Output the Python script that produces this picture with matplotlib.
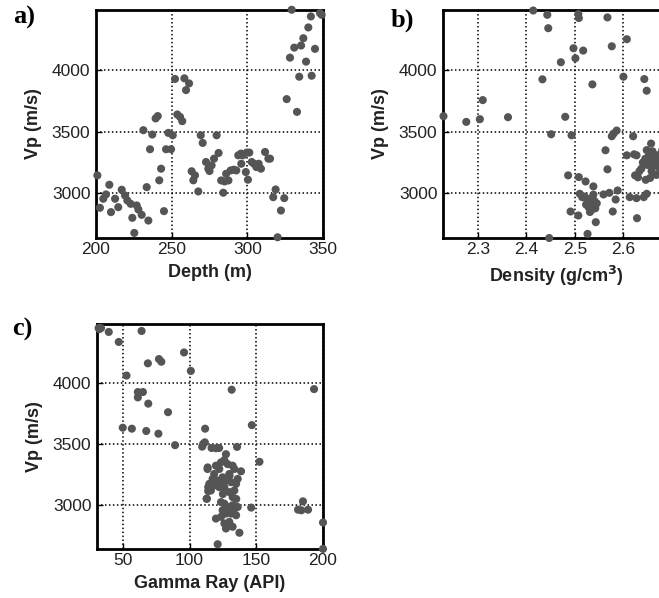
import matplotlib
matplotlib.use("Agg")
import matplotlib.pyplot as plt

# ---- Panel a: depth vs Vp ----
depth_a = [200.9, 202.6, 204.8, 206.6, 208.8, 209.9, 212.6, 214.7, 217.0, 219.2,
           220.7, 222.9, 224.0, 225.3, 226.9, 228.0, 230.2, 234.6, 231.3, 233.5,
           235.7, 237.2, 239.4, 240.8, 241.8, 243.0, 244.9, 246.3, 249.6, 247.8,
           250.7, 252.2, 258.4, 261.5, 259.5, 253.7, 255.5, 257.0, 263.2, 265.4,
           264.3, 267.6, 269.2, 270.5, 272.7, 274.2, 275.0, 276.4, 278.0, 279.7,
           281.0, 282.7, 285.0, 286.0, 287.5, 289.0, 291.0, 292.7, 294.0, 295.8,
           297.0, 299.6, 301.3, 299.0, 300.4, 302.9, 304.4, 306.0, 307.5, 309.0,
           311.7, 313.9, 315.0, 318.7, 317.1, 324.4, 322.2, 320.0, 329.3, 342.0,
           348.0, 349.1, 340.3, 337.0, 335.5, 331.0, 344.7, 328.2, 338.8, 334.3,
           342.5, 326.0, 332.8, 284.1, 296.0]
vp_a = [3146, 2884, 2957, 2992, 3070, 2849, 2957, 2889, 3030, 2984,
        2943, 2916, 2803, 2681, 2903, 2870, 2827, 2781, 3511, 3051,
        3357, 3476, 3606, 3625, 3106, 3200, 2857, 3357, 3357, 3489,
        3470, 3925, 3930, 3889, 3835, 3638, 3619, 3584, 3179, 3146,
        3106, 3016, 3470, 3408, 3254, 3200, 3181, 3227, 3281, 3470,
        3327, 3105, 3097, 3159, 3105, 3186, 3192, 3186, 3308, 3322,
        3308, 3330, 3330, 3173, 3111, 3254, 3240, 3213, 3240, 3200,
        3335, 3281, 3281, 3032, 2970, 2962, 2862, 2646, 4484, 4430,
        4457, 4443, 4341, 4254, 4195, 4178, 4168, 4097, 4065, 3943,
        3951, 3762, 3659, 3006, 3240]

# ---- Panel b: density vs Vp ----
dens_b = [2.229, 2.276, 2.304, 2.310, 2.362, 2.414, 2.433, 2.443, 2.445, 2.447,
          2.451, 2.471, 2.480, 2.486, 2.491, 2.493, 2.497, 2.501, 2.507, 2.508,
          2.508, 2.507, 2.510, 2.517, 2.522, 2.526, 2.536, 2.538, 2.543, 2.559,
          2.563, 2.567, 2.567, 2.571, 2.576, 2.576, 2.578, 2.580, 2.584, 2.586,
          2.588, 2.600, 2.607, 2.607, 2.613, 2.620, 2.622, 2.624, 2.627, 2.628,
          2.642, 2.643, 2.648, 2.648, 2.657,
          2.520, 2.525, 2.530, 2.533, 2.537, 2.540, 2.528, 2.535, 2.545, 2.523,
          2.531, 2.542, 2.515, 2.538,
          2.630, 2.633, 2.637, 2.640, 2.645, 2.650, 2.652, 2.655, 2.658, 2.660,
          2.662, 2.665, 2.668, 2.670, 2.672, 2.675, 2.678, 2.680, 2.683, 2.686,
          2.690, 2.692, 2.646, 2.655, 2.627, 2.648]
vp_b = [3624, 3578, 3600, 3754, 3616, 4478, 3922, 4443, 4335, 2640,
        3478, 4060, 3619, 3146, 2854, 3470, 4173, 4092, 4449, 4417,
        3132, 2822, 2997, 4154, 3097, 2673, 3881, 3057, 2768, 2992,
        3349, 3195, 4422, 3005, 4189, 3462, 2854, 3484, 2951, 3508,
        3024, 3943, 4246, 3308, 2970, 3462, 3316, 3146, 2962, 2800,
        2970, 3924, 2997, 3830, 3403,
        2975, 2950, 2930, 2960, 2905, 2940, 2890, 2870, 2920, 2910,
        2850, 2880, 2970, 2990,
        3130, 3180, 3200, 3250, 3280, 3230, 3300, 3260, 3180, 3340,
        3220, 3290, 3150, 3250, 3310, 3200, 3270, 3350, 3230, 3290,
        3180, 3320, 3110, 3125, 3308, 3350]

# ---- Panel c: gamma ray vs Vp ----
gr_c = [31.9, 33.7, 32.5, 39.5, 47.0, 64.1, 52.8, 68.8, 77.1, 78.9,
        95.9, 101.0, 61.3, 65.1, 61.3, 69.1, 83.9, 50.0, 56.8, 67.6,
        76.7, 89.2, 111.7, 109.5, 110.2, 111.5, 116.5, 122.2, 131.6, 135.6,
        146.7, 152.4, 193.3, 200.0, 200.0, 181.3, 183.8, 188.8, 185.0, 146.2,
        121.1, 137.4, 113.6, 114.0, 114.0, 112.8,
        127.3, 126.1, 128.6, 132.3, 133.6, 138.6, 129.8, 123.6, 119.8, 122.3,
        118.5, 117.3, 121.1, 123.6, 124.8, 127.3, 131.1, 134.9, 136.1, 133.6,
        129.8, 126.1, 122.3, 118.5, 116.0, 114.8, 113.0, 132.3, 113.5, 119.8,
        123.6, 126.1, 128.6, 132.3, 133.6, 136.1, 124.8, 127.3, 131.1, 134.9,
        123.6, 119.8, 126.1, 129.8, 132.3, 127.3, 130.0, 135.0, 125.0, 128.0]
vp_c = [4449, 4449, 4440, 4417, 4335, 4425, 4060, 4160, 4195, 4173,
        4249, 4098, 3925, 3925, 3881, 3830, 3760, 3633, 3625, 3606,
        3584, 3490, 3625, 3478, 3500, 3513, 3467, 3467, 3944, 3476,
        3654, 3354, 3949, 2857, 2641, 2962, 2957, 2962, 3030, 2979,
        2679, 2773, 3308, 3146, 3114, 3051,
        3416, 3368, 3335, 3322, 3295, 3276, 3254, 3349, 3322, 3295,
        3254, 3214, 3200, 3173, 3227, 3200, 3187, 3173, 3214, 3119,
        3106, 3146, 3146, 3160, 3119, 3173, 3052, 3065, 3295, 3465,
        3024, 3011, 2984, 2998, 2970, 2984, 2957, 2930, 2930, 2916,
        2903, 2889, 2849, 2862, 2822, 2808, 3240, 3050, 3090, 2950]

vp_ticks = [3000, 3500, 4000]
vp_lim = (2640, 4482)

W, H = 659, 598
fig = plt.figure(figsize=(W / 100, H / 100), dpi=100)
fig.patch.set_facecolor("white")

SANS = ["Liberation Sans", "DejaVu Sans"]
SERIF = ["Liberation Serif", "DejaVu Serif"]
DOT = "#555555"
TXT = "#222222"


def px_axes(left, top, right, bottom):
    return fig.add_axes([left / W, 1 - bottom / H, (right - left) / W, (bottom - top) / H])


def style(ax, xlabel, xticks, xlim):
    ax.set_xlim(*xlim)
    ax.set_ylim(*vp_lim)
    ax.set_xticks(xticks)
    ax.set_yticks(vp_ticks)
    ax.grid(True, color="black", linestyle=(0, (1, 1.6)), linewidth=1.1)
    ax.set_axisbelow(True)
    for s in ax.spines.values():
        s.set_linewidth(2.0)
        s.set_color("black")
    ax.tick_params(direction="in", length=4, width=1, labelsize=12.5,
                   labelcolor=TXT)
    ax.tick_params(axis="x", pad=3)
    ax.tick_params(axis="y", pad=4)
    for lab in ax.get_xticklabels() + ax.get_yticklabels():
        lab.set_family(SANS)
    ax.set_xlabel(xlabel, fontsize=13, fontweight="bold", family=SANS,
                  color=TXT, labelpad=5)
    ax.set_ylabel("Vp (m/s)", fontsize=13, fontweight="bold", family=SANS,
                  color=TXT, labelpad=7)


def dots(ax, x, y):
    ax.scatter(x, y, s=34, color=DOT, edgecolors="none", zorder=3, clip_on=False)


ax_a = px_axes(96, 10, 323, 238)
dots(ax_a, depth_a, vp_a)
style(ax_a, "Depth (m)", [200, 250, 300, 350], (200, 350))

ax_b = px_axes(443, 10, 670, 238)
dots(ax_b, dens_b, vp_b)
style(ax_b, "Density (g/cm$^\\mathbf{3}$)", [2.3, 2.4, 2.5, 2.6], (2.228, 2.696))

ax_c = px_axes(97, 324, 323, 549)
dots(ax_c, gr_c, vp_c)
style(ax_c, "Gamma Ray (API)", [50, 100, 150, 200], (30.7, 200))

for label, (x, y) in {"a)": (13, 6), "b)": (391, 9), "c)": (12, 318)}.items():
    fig.text(x / W, 1 - y / H, label, fontsize=19, fontweight="bold",
             family=SERIF, ha="left", va="top", color="black")

fig.savefig("out.png", dpi=100, facecolor="white")
